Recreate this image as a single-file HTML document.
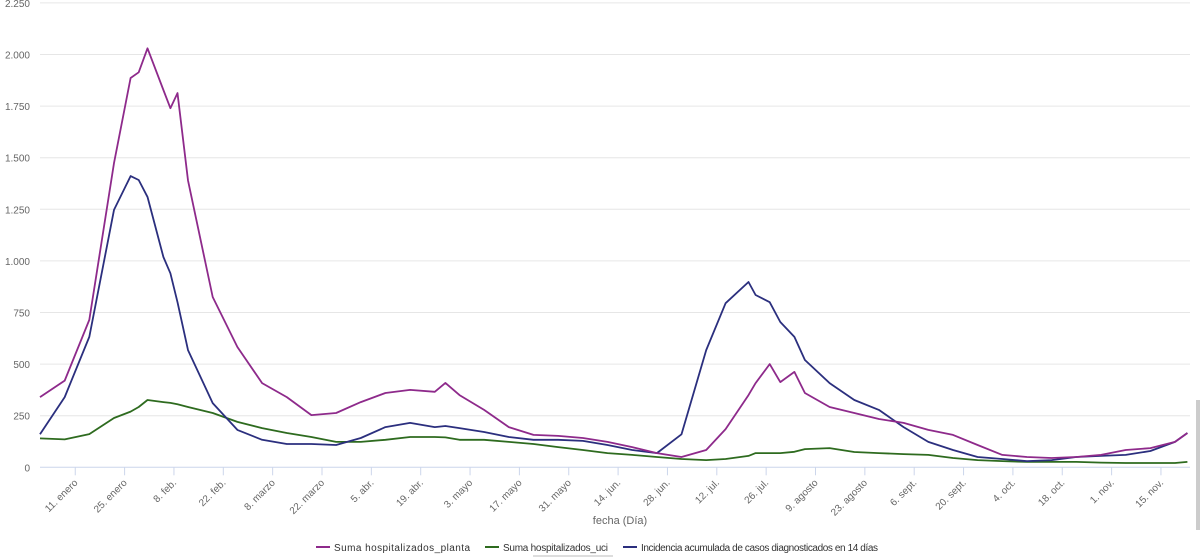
<!DOCTYPE html>
<html><head><meta charset="utf-8"><style>
body{margin:0;background:#fff;width:1200px;height:558px;overflow:hidden;font-family:"Liberation Sans",sans-serif}
svg{display:block}
text{font-family:"Liberation Sans",sans-serif}
</style></head><body>
<svg id="chart" width="1200" height="558" viewBox="0 0 1200 558">
<g id="grid"></g>
<g id="yaxis"></g>
<g id="xaxis"></g>
<g id="series"></g>
<text x="620" y="524" font-size="11" fill="#666" text-anchor="middle">fecha (Día)</text>
<g font-size="10" fill="#333">
<g><line x1="316" y1="547" x2="330" y2="547" stroke="#8e2a8b" stroke-width="2"/><text x="334" y="551" textLength="136">Suma hospitalizados_planta</text></g>
<g><line x1="485" y1="547" x2="499" y2="547" stroke="#2e6b1f" stroke-width="2"/><text x="503" y="551" textLength="105">Suma hospitalizados_uci</text></g>
<g><line x1="623" y1="547" x2="637" y2="547" stroke="#2b2f7e" stroke-width="2"/><text x="641" y="551" textLength="237">Incidencia acumulada de casos diagnosticados en 14 días</text></g>
</g>
<line x1="533" y1="556" x2="613" y2="556" stroke="#bbb" stroke-width="1"/>
<rect x="1196" y="400" width="4" height="130" fill="#ccc"/>
</svg>
<script>
const days = [0,7,14,21,25.7,28,30.5,35,37,39,42,49,56,63,70,77,84,91,98,105,112,115,119,126,133,140,147,154,161,168,175,182,189,194.5,201,203,207,210,214,217,224,231,238,245,252,259,266,273,280,287,294,301,308,315,322,325.5];
const planta = [340,420,714,1474,1886,1914,2030,1828,1740,1813,1390,825,583,408,340,253,263,316,360,375,366,409,350,278,195,157,152,142,123,98,69,50,84,185,350,408,500,413,462,360,292,263,234,215,181,157,108,60,50,45,50,60,84,93,123,166];
const uci = [140,135,161,239,270,292,326,316,312,305,292,263,220,190,166,147,123,123,133,147,147,145,133,133,123,113,98,84,69,60,50,40,35,40,55,69,69,69,75,88,93,74,69,64,60,45,35,30,26,26,26,23,21,21,21,26];
const incidencia = [160,340,632,1247,1411,1392,1310,1019,940,800,568,311,181,133,113,113,108,142,195,215,195,200,190,171,147,133,133,128,108,84,69,160,568,795,898,835,800,704,632,520,408,326,278,195,123,84,50,40,30,35,50,55,60,79,123,166];
const yTicks = [0,250,500,750,1000,1250,1500,1750,2000,2250];
const yTickLabels = ["0","250","500","750","1.000","1.250","1.500","1.750","2.000","2.250"];
const xTickDays = [10,24,38,52,66,80,94,108,122,136,150,164,178,192,206,220,234,248,262,276,290,304,318];
const xTickLabels = ["11. enero","25. enero","8. feb.","22. feb.","8. marzo","22. marzo","5. abr.","19. abr.","3. mayo","17. mayo","31. mayo","14. jun.","28. jun.","12. jul.","26. jul.","9. agosto","23. agosto","6. sept.","20. sept.","4. oct.","18. oct.","1. nov.","15. nov."];

const NS="http://www.w3.org/2000/svg";
const X0=40, PXD=3.525, Y0=467.3, PXV=51.6/250;
function xs(d){return X0+d*PXD;}
function ys(v){return Y0-v*PXV;}
function mk(t,a,p){const e=document.createElementNS(NS,t);for(const k in a)e.setAttribute(k,a[k]);p.appendChild(e);return e;}

const grid=document.getElementById('grid'), ya=document.getElementById('yaxis'), xa=document.getElementById('xaxis'), se=document.getElementById('series');
yTicks.forEach((v,i)=>{
  const l=mk('line',{x1:X0,x2:1190,y1:ys(v),y2:ys(v),stroke:i==0?'#ccd6eb':'#e6e6e6','stroke-width':1},grid);
  
  
  const t=mk('text',{x:30,y:ys(v)+4,'font-size':10,fill:'#666','text-anchor':'end'},ya);
  t.textContent=yTickLabels[i];
  
  
});
xTickDays.forEach((d,i)=>{
  const x=xs(d);
  const tk=mk('line',{x1:x,x2:x,y1:Y0,y2:Y0+8,stroke:'#ccd6eb'},xa);
  
  
  const t=mk('text',{x:x+3,y:Y0+16,'font-size':10,fill:'#666','text-anchor':'end',transform:`rotate(-45 ${x+3} ${Y0+16})`},xa);
  t.textContent=xTickLabels[i];
  
  
});
function line(vals,color,name){
  const d=vals.map((v,i)=>(i?'L':'M')+xs(days[i]).toFixed(1)+' '+ys(v).toFixed(1)).join(' ');
  const p=mk('path',{d:d,fill:'none',stroke:color,'stroke-width':1.8,'stroke-linejoin':'round'},se);
  
  
}
line(uci,'#2e6b1f','line-uci');
line(incidencia,'#2b2f7e','line-incidencia');
line(planta,'#8e2a8b','line-planta');
</script>
</body></html>
